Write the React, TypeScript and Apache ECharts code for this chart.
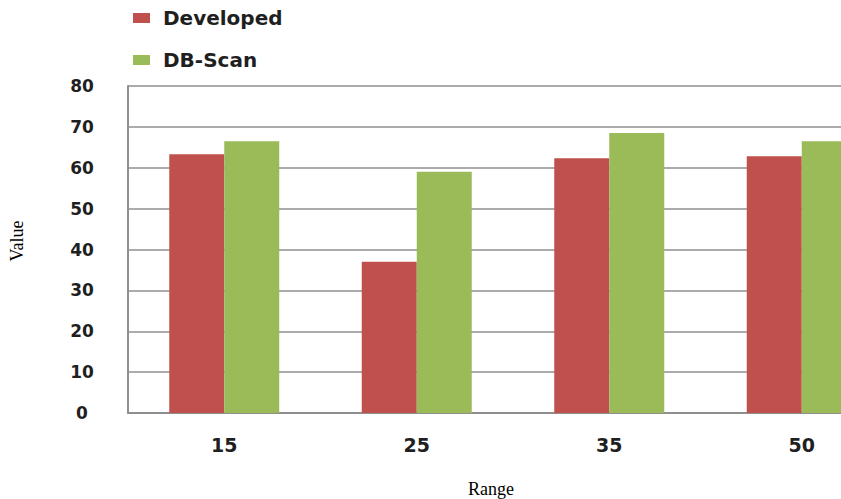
import React, { useEffect, useRef } from "react";
import * as echarts from "echarts";

const categories = ["15", "25", "35", "50"];
const developed = [63.3, 37.0, 62.3, 62.8];
const dbScan = [66.5, 59.0, 68.5, 66.5];
const seriesNames = ["Developed", "DB-Scan"];
const yAxisName = "Value";
const xAxisName = "Range";

const RED = "#C0504D";
const GREEN = "#9BBB59";
const GRID_GRAY = "#8f8f8f";
const TEXT = "#1f1f1f";

export default function App() {
  const ref = useRef<HTMLDivElement>(null);
  useEffect(() => {
    if (!ref.current) return;
    const chart = echarts.init(ref.current, undefined, { renderer: "svg" });
    chart.setOption({
      animation: false,
      backgroundColor: "#ffffff",
      legend: {
        orient: "vertical",
        left: 128,
        top: 3,
        itemWidth: 17,
        itemHeight: 10,
        itemGap: 22,
        icon: "rect",
        data: seriesNames,
        textStyle: {
          fontFamily: "DejaVu Sans",
          fontWeight: "bold",
          fontSize: 20,
          lineHeight: 20,
          color: TEXT,
          padding: [0, 0, 0, 8],
        },
      },
      grid: { left: 128, top: 86, width: 770, height: 327 },
      xAxis: {
        type: "category",
        data: categories,
        axisLine: { show: true, lineStyle: { color: GRID_GRAY, width: 2 } },
        axisTick: { show: false },
        axisLabel: {
          margin: 22,
          fontFamily: "DejaVu Sans",
          fontWeight: "bold",
          fontSize: 19,
          color: TEXT,
        },
      },
      yAxis: {
        type: "value",
        min: 0,
        max: 80,
        interval: 10,
        axisLine: { show: true, lineStyle: { color: GRID_GRAY, width: 2 } },
        axisTick: { show: false },
        splitLine: { show: true, lineStyle: { color: GRID_GRAY, width: 1.5 } },
        axisLabel: {
          margin: 46,
          align: "center",
          fontFamily: "DejaVu Sans",
          fontWeight: "bold",
          fontSize: 17,
          color: TEXT,
        },
      },
      graphic: [
        {
          type: "text",
          x: 17,
          y: 241,
          rotation: Math.PI / 2,
          style: {
            text: yAxisName,
            fontFamily: "Liberation Serif",
            fontSize: 18,
            fill: "#000",
            align: "center",
            verticalAlign: "middle",
          },
        },
        {
          type: "text",
          x: 491,
          y: 489,
          style: {
            text: xAxisName,
            fontFamily: "Liberation Serif",
            fontSize: 18,
            fill: "#000",
            align: "center",
            verticalAlign: "middle",
          },
        },
      ],
      series: [
        {
          name: seriesNames[0],
          type: "bar",
          data: developed,
          barWidth: 55,
          barGap: "0%",
          itemStyle: { color: RED },
        },
        {
          name: seriesNames[1],
          type: "bar",
          data: dbScan,
          barWidth: 55,
          barGap: "0%",
          itemStyle: { color: GREEN },
        },
      ],
    });
    return () => chart.dispose();
  }, []);
  return (
    <div
      style={{ position: "absolute", left: 0, top: 0, width: 841, height: 499, overflow: "hidden" }}
    >
      <div ref={ref} style={{ width: 900, height: 499 }} />
    </div>
  );
}
